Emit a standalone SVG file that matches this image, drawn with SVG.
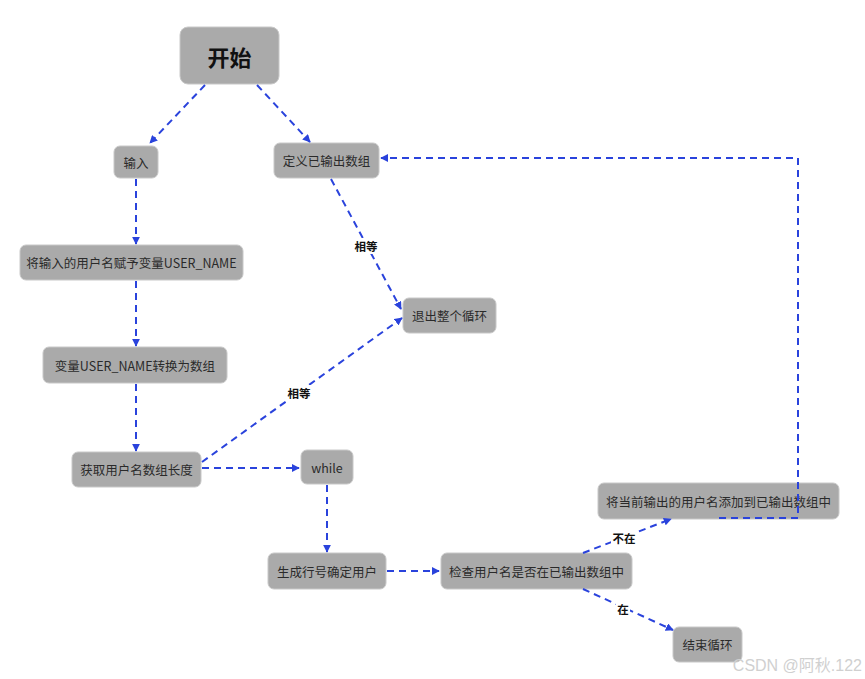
<svg xmlns="http://www.w3.org/2000/svg" width="865" height="679" viewBox="0 0 865 679">
<defs>
<marker id="ah" viewBox="0 0 10 10" refX="9" refY="5" markerWidth="8" markerHeight="8" markerUnits="userSpaceOnUse" orient="auto">
<path d="M0,0 L10,5 L0,10 z" fill="#2a43dc"/>
</marker>
<style>
.n rect{fill:#aaaaaa;stroke:#c8c8c8;stroke-width:1}
.n text{font-family:"Noto Sans CJK SC","Liberation Sans",sans-serif;font-size:12.5px;fill:#2a2a2a;text-anchor:middle;dominant-baseline:central}
.c path{fill:none;stroke:#2a43dc;stroke-width:2;stroke-dasharray:7,5;marker-end:url(#ah)}
.lb{font-family:"Noto Sans CJK SC","Liberation Sans",sans-serif;font-size:11.5px;font-weight:bold;fill:#111;text-anchor:middle;dominant-baseline:central}
</style>
</defs>
<rect width="865" height="679" fill="#ffffff"/>
<g id="start" class="n"><rect x="180" y="27" width="99" height="57" rx="8"/><text x="229.5" y="56" style="font-size:22px;font-weight:bold;fill:#111">开始</text></g>
<g id="input" class="n"><rect x="114" y="146" width="44" height="32" rx="6"/><text x="136" y="162">输入</text></g>
<g id="define" class="n"><rect x="274" y="143" width="105" height="35" rx="6"/><text x="326.5" y="160.5">定义已输出数组</text></g>
<g id="assign" class="n"><rect x="20" y="245" width="223" height="35" rx="6"/><text x="131.5" y="262.5">将输入的用户名赋予变量USER_NAME</text></g>
<g id="convert" class="n"><rect x="43" y="347" width="184" height="36" rx="6"/><text x="135" y="365">变量USER_NAME转换为数组</text></g>
<g id="length" class="n"><rect x="72" y="452" width="129" height="35" rx="6"/><text x="136.5" y="469.5">获取用户名数组长度</text></g>
<g id="while" class="n"><rect x="301" y="450" width="52" height="34" rx="6"/><text x="327" y="467">while</text></g>
<g id="exit" class="n"><rect x="403" y="298" width="93" height="35" rx="6"/><text x="449.5" y="315.5">退出整个循环</text></g>
<g id="gen" class="n"><rect x="268" y="553" width="118" height="36" rx="6"/><text x="327" y="571">生成行号确定用户</text></g>
<g id="check" class="n"><rect x="441" y="553" width="191" height="36" rx="6"/><text x="536.5" y="571">检查用户名是否在已输出数组中</text></g>
<g id="add" class="n"><rect x="598" y="483" width="241" height="36" rx="6"/><text x="718.5" y="501">将当前输出的用户名添加到已输出数组中</text></g>
<g id="end" class="n"><rect x="673" y="627" width="69" height="35" rx="6"/><text x="707.5" y="644.5">结束循环</text></g>
<g id="connectors" class="c">
<path d="M205,85 L150,143"/>
<path d="M257,85 L310,142"/>
<path d="M136,179 L136,244"/>
<path d="M136,281 L136,346"/>
<path d="M136,384 L136,451"/>
<path d="M202,468 L299,468"/>
<path d="M202,462 L402,318"/>
<path d="M331,179 L401,309"/>
<path d="M327,485 L327,552"/>
<path d="M387,571 L439,571"/>
<path d="M583,553 L671,519"/>
<path d="M583,589 L673,630"/>
<path d="M719,518 L798,518 L798,158 L381,158"/>
</g>
<g id="labels">
<rect x="286" y="385" width="26" height="16" fill="#fff"/>
<text class="lb" x="299" y="393">相等</text>
<rect x="353" y="238" width="26" height="16" fill="#fff"/>
<text class="lb" x="366" y="246">相等</text>
<rect x="611" y="530" width="26" height="16" fill="#fff"/>
<text class="lb" x="624" y="538">不在</text>
<rect x="616" y="601" width="14" height="16" fill="#fff"/>
<text class="lb" x="623" y="609">在</text>
</g>
<text x="862" y="665" style="font-family:'Liberation Sans','Noto Sans CJK SC',sans-serif;font-size:16px;fill:#d0d0d0;text-anchor:end;dominant-baseline:central">CSDN @阿秋.122</text>
</svg>
